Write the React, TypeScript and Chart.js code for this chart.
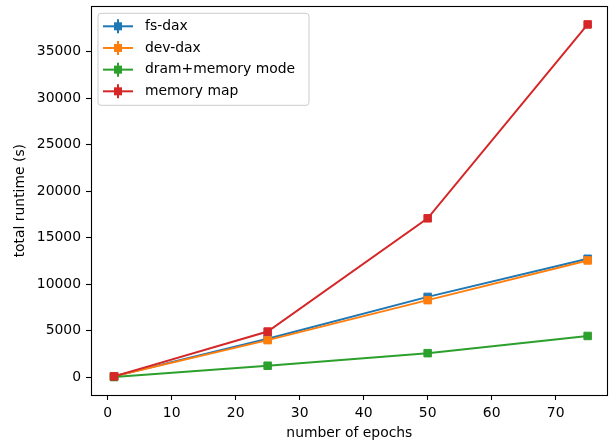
import React, { useEffect, useRef } from "react";
import { Chart, registerables } from "chart.js";

Chart.register(...registerables);

const epochs = [1, 25, 50, 75];
const fsDax = [120, 4150, 8650, 12750];
const devDax = [110, 4000, 8300, 12570];
const dramMemoryMode = [30, 1250, 2600, 4450];
const memoryMap = [100, 4920, 17100, 37950];

const seriesNames = ["fs-dax", "dev-dax", "dram+memory mode", "memory map"];
const seriesColors = ["#1f77b4", "#ff7f0e", "#2ca02c", "#d62728"];
const xTicks = [0, 10, 20, 30, 40, 50, 60, 70];
const yTicks = [0, 5000, 10000, 15000, 20000, 25000, 30000, 35000];

const FONT = "'DejaVu Sans', sans-serif";

const framePlugin = {
  id: "frame",
  afterDatasetsDraw(chart: any) {
    const { ctx, chartArea } = chart;
    ctx.save();
    ctx.strokeStyle = "#000";
    ctx.lineWidth = 1.1;
    ctx.strokeRect(
      Math.round(chartArea.left) + 0.5,
      Math.round(chartArea.top) + 0.5,
      Math.round(chartArea.right - chartArea.left) - 1,
      Math.round(chartArea.bottom - chartArea.top)
    );
    ctx.restore();
  },
};

const legendPlugin = {
  id: "mplLegend",
  afterDraw(chart: any) {
    const { ctx, chartArea } = chart;
    const x0 = chartArea.left + 7;
    const y0 = chartArea.top + 7;
    const w = 211;
    const h = 92;
    ctx.save();
    const r = 3;
    ctx.beginPath();
    ctx.moveTo(x0 + r, y0);
    ctx.lineTo(x0 + w - r, y0);
    ctx.quadraticCurveTo(x0 + w, y0, x0 + w, y0 + r);
    ctx.lineTo(x0 + w, y0 + h - r);
    ctx.quadraticCurveTo(x0 + w, y0 + h, x0 + w - r, y0 + h);
    ctx.lineTo(x0 + r, y0 + h);
    ctx.quadraticCurveTo(x0, y0 + h, x0, y0 + h - r);
    ctx.lineTo(x0, y0 + r);
    ctx.quadraticCurveTo(x0, y0, x0 + r, y0);
    ctx.closePath();
    ctx.fillStyle = "rgba(255,255,255,0.8)";
    ctx.fill();
    ctx.strokeStyle = "#cccccc";
    ctx.lineWidth = 1;
    ctx.stroke();

    chart.data.datasets.forEach((ds: any, i: number) => {
      const cy = y0 + 13 + i * 21.67;
      const lx0 = x0 + 5;
      const lx1 = x0 + 35;
      const mx = (lx0 + lx1) / 2;
      ctx.strokeStyle = ds.borderColor;
      ctx.lineWidth = 2;
      ctx.beginPath();
      ctx.moveTo(lx0, cy);
      ctx.lineTo(lx1, cy);
      ctx.stroke();
      ctx.beginPath();
      ctx.moveTo(mx, cy - 7);
      ctx.lineTo(mx, cy + 7);
      ctx.stroke();
      ctx.fillStyle = ds.backgroundColor;
      ctx.fillRect(mx - 4, cy - 4, 8, 8);
      ctx.fillStyle = "#000";
      ctx.font = `13.9px ${FONT}`;
      ctx.textBaseline = "middle";
      ctx.textAlign = "left";
      ctx.fillText(ds.label, x0 + 47, cy);
    });
    ctx.restore();
  },
};

export default function App() {
  const ref = useRef<HTMLCanvasElement | null>(null);
  useEffect(() => {
    if (!ref.current) return;
    const allSeries = [fsDax, devDax, dramMemoryMode, memoryMap];
    const chart = new Chart(ref.current, {
      type: "line",
      data: {
        datasets: allSeries.map((vals, i) => ({
          label: seriesNames[i],
          data: epochs.map((e, j) => ({ x: e, y: vals[j] })),
          borderColor: seriesColors[i],
          backgroundColor: seriesColors[i],
          borderWidth: 2,
          pointStyle: "rect",
          pointRadius: 5.3,
          pointBorderWidth: 1,
          pointBorderColor: seriesColors[i],
          pointBackgroundColor: seriesColors[i],
          order: 4 - i,
          tension: 0,
        })),
      },
      options: {
        animation: false,
        responsive: false,
        devicePixelRatio: 1,
        layout: { padding: { top: 5, right: 4, left: 0, bottom: 0 } },
        plugins: {
          legend: { display: false },
          tooltip: { enabled: false },
        },
        scales: {
          x: {
            type: "linear",
            min: -2.6,
            max: 78.13,
            afterFit(scale: any) {
              scale.height = 48;
              scale.paddingLeft = 0;
              scale.paddingRight = 0;
            },
            afterBuildTicks(scale: any) {
              scale.ticks = xTicks.map((v) => ({ value: v }));
            },
            grid: {
              display: true,
              drawOnChartArea: false,
              drawTicks: true,
              tickLength: 5,
              tickColor: "#000",
              tickWidth: 1.1,
            },
            border: { display: false },
            ticks: {
              color: "#000",
              font: { family: FONT, size: 13.9 },
              padding: 5,
              maxRotation: 0,
              autoSkip: false,
              callback: (v: any) => String(v),
            },
            title: {
              display: true,
              text: "number of epochs",
              color: "#000",
              font: { family: FONT, size: 13.9 },
              padding: { top: 0, bottom: 1 },
            },
          },
          y: {
            type: "linear",
            min: -1900,
            max: 39900,
            afterFit(scale: any) {
              scale.width = 91;
              scale.paddingTop = 0;
              scale.paddingBottom = 0;
            },
            afterBuildTicks(scale: any) {
              scale.ticks = yTicks.map((v) => ({ value: v }));
            },
            grid: {
              display: true,
              drawOnChartArea: false,
              drawTicks: true,
              tickLength: 5,
              tickColor: "#000",
              tickWidth: 1.1,
            },
            border: { display: false },
            ticks: {
              color: "#000",
              font: { family: FONT, size: 13.9 },
              padding: 5,
              autoSkip: false,
              callback: (v: any) => String(v),
            },
            title: {
              display: true,
              text: "total runtime (s)",
              color: "#000",
              font: { family: FONT, size: 13.9 },
              padding: { top: 12, bottom: 0 },
            },
          },
        },
      },
      plugins: [framePlugin, legendPlugin],
    } as any);
    return () => chart.destroy();
  }, []);
  return (
    <div style={{ position: "fixed", left: 0, top: 0, width: 614, height: 443, background: "#fff" }}>
      <canvas ref={ref} width={614} height={443} style={{ display: "block" }} />
    </div>
  );
}
